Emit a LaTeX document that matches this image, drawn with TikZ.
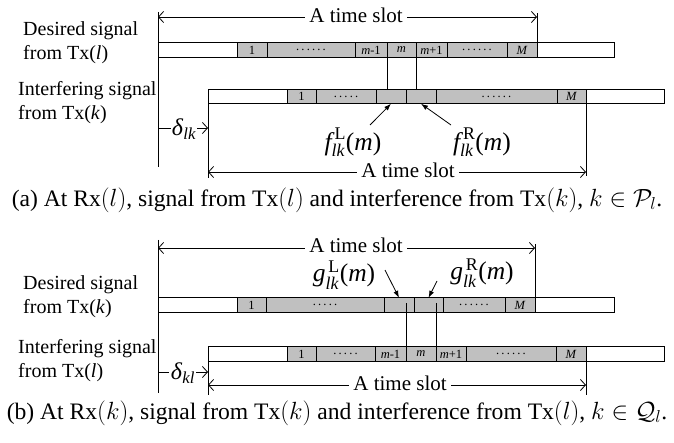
\documentclass[tikz,border=0pt]{standalone}
\usepackage{amsmath}
\usepackage{fontspec}
\setmainfont{Liberation Serif}
\usetikzlibrary{arrows.meta}
\definecolor{slotgray}{RGB}{192,192,192}
\tikzset{
  x=1pt, y=-1pt,
  cellbox/.style={draw, line width=1pt, inner sep=0pt, outer sep=0pt,
    minimum height=14.5pt, font=\fontsize{12.5}{12.5}\selectfont},
  gcell/.style={cellbox, fill=slotgray},
  wcell/.style={cellbox, fill=white},
  guide/.style={line width=0.8pt},
  span/.style={line width=0.8pt,
    {Straight Barb[length=5pt,width=11pt]}-{Straight Barb[length=5pt,width=11pt]}},
  halfspan/.style={line width=0.8pt, -{Straight Barb[length=5pt,width=11pt]}},
  ptr/.style={line width=0.8pt, -{Latex[length=7pt,width=5pt]}},
  lbl/.style={font=\fontsize{24}{24}\selectfont, inner sep=0pt},
  overlap/.style={font=\fontsize{25.5}{25.5}\selectfont, inner sep=0pt},
  side/.style={font=\fontsize{20}{24}\selectfont, align=left, anchor=west, inner sep=0pt},
  slotlbl/.style={font=\fontsize{21}{21}\selectfont, fill=white, inner xsep=4pt, inner ysep=0pt},
  caption/.style={font=\fontsize{23.6}{23.6}\selectfont, inner sep=0pt},
}
% \mkcell{name}{left x}{right x}{centre y}{style}{text}
\newcommand\mkcell[6]{\node[#5, minimum width={(#3-#2)*1pt}] (#1) at ({(#2+#3)/2},#4) {#6};}
\newcommand\dotsix{.\kern2.2pt.\kern2.2pt.\kern2.2pt.\kern2.2pt.\kern2.2pt.}
\newcommand\dotfive{.\kern2.2pt.\kern2.2pt.\kern2.2pt.\kern2.2pt.}

\begin{document}
\begin{tikzpicture}
\useasboundingbox (0,0) rectangle (674,443);

% ---------------- (a) ----------------
\node[side] (adesc) at (23,43) {Desired signal\\from Tx(\textit{l})};
\node[side] (aidesc) at (18,103) {Interfering signal\\from Tx(\textit{k})};

% desired slot from Tx(l)
\mkcell{ad0}{158}{237}{50}{wcell}{}
\mkcell{ad1}{237}{267}{50}{gcell}{1}
\mkcell{ad2}{267}{355}{50}{gcell}{\dotsix}
\mkcell{ad3}{355}{387}{50}{gcell}{\textit{m}-1}
\mkcell{ad4}{387}{416}{50}{gcell}{\textit{m}}
\mkcell{ad5}{416}{447}{50}{gcell}{\textit{m}+1}
\mkcell{ad6}{447}{507}{50}{gcell}{\dotsix}
\mkcell{ad7}{507}{537}{50}{gcell}{\textit{M}}
\mkcell{ad8}{537}{614}{50}{wcell}{}

% interfering slot from Tx(k)
\mkcell{ai0}{208}{287}{96.5}{wcell}{}
\mkcell{ai1}{287}{316}{96.5}{gcell}{1}
\mkcell{ai2}{316}{376}{96.5}{gcell}{\dotfive}
\mkcell{ai3}{376}{406}{96.5}{gcell}{}
\mkcell{ai4}{406}{436}{96.5}{gcell}{}
\mkcell{ai5}{436}{557}{96.5}{gcell}{\dotsix}
\mkcell{ai6}{557}{586}{96.5}{gcell}{\textit{M}}
\mkcell{ai7}{586}{664}{96.5}{wcell}{}

% boundaries of sub-slot m projected down
\draw[guide] (ad4.south west) -- (ad4.south west |- ai3.north);
\draw[guide] (ad4.south east) -- (ad4.south east |- ai4.north);

% reference lines
\coordinate (aLtop) at (158,12);
\coordinate (aLbot) at (158,167);
\draw[guide] (aLtop) -- (aLbot);
\coordinate (aspanL) at (158,17);
\coordinate (aspanR) at (537,17);
\draw[guide] (ad7.north east) -- (537,13);
\draw[span] (aspanL) -- (aspanR);
\node[slotlbl] (aslot) at (356,15) {A time slot};

\coordinate (abspanL) at (208,172);
\coordinate (abspanR) at (586,172);
\draw[guide] (ai0.south west) -- (208,178);
\draw[guide] (ai6.south east) -- (586,176);
\draw[span] (abspanL) -- (abspanR);
\node[slotlbl] (abslot) at (408,170) {A time slot};

% offset delta_lk
\node[lbl] (adel) at (184,129) {\textit{δ}$_{\textit{lk}}$};
\draw[guide] (158,128) -- (171,128);
\draw[halfspan] (197,128) -- (ai0.south west |- 0,128);

% partial overlaps
\node[overlap] (afL) at (353,142) {$\textit{f}^{\,\textrm{L}}_{\textit{lk}}\textrm{(}\textit{m}\textrm{)}$};
\node[overlap] (afR) at (482,142) {$\textit{f}^{\,\textrm{R}}_{\textit{lk}}\textrm{(}\textit{m}\textrm{)}$};
\coordinate (afLtail) at (370,125);
\coordinate (afRtail) at (451,125);
\draw[ptr] (afLtail) -- (ai3.south);
\draw[ptr] (afRtail) -- (ai4.south);

\node[caption] (capa) at (337,200) {(a) At $\mathrm{Rx}(l)$, signal from $\mathrm{Tx}(l)$ and interference from $\mathrm{Tx}(k)$, $k\in\mathcal{P}_l$.};

% ---------------- (b) ----------------
\node[side] (bdesc) at (23,297) {Desired signal\\from Tx(\textit{k})};
\node[side] (bidesc) at (18,361) {Interfering signal\\from Tx(\textit{l})};

% desired slot from Tx(k)
\mkcell{bd0}{158}{237}{305}{wcell}{}
\mkcell{bd1}{237}{266}{305}{gcell}{1}
\mkcell{bd2}{266}{384}{305}{gcell}{\dotfive}
\mkcell{bd3}{384}{414}{305}{gcell}{}
\mkcell{bd4}{414}{443}{305}{gcell}{}
\mkcell{bd5}{443}{505}{305}{gcell}{\dotsix}
\mkcell{bd6}{505}{535}{305}{gcell}{\textit{M}}
\mkcell{bd7}{535}{614}{305}{wcell}{}

% interfering slot from Tx(l)
\mkcell{bi0}{208}{287}{354}{wcell}{}
\mkcell{bi1}{287}{316}{354}{gcell}{1}
\mkcell{bi2}{316}{375}{354}{gcell}{\dotfive}
\mkcell{bi3}{375}{406}{354}{gcell}{\textit{m}-1}
\mkcell{bi4}{406}{436}{354}{gcell}{\textit{m}}
\mkcell{bi5}{436}{466}{354}{gcell}{\textit{m}+1}
\mkcell{bi6}{466}{556}{354}{gcell}{\dotsix}
\mkcell{bi7}{556}{586}{354}{gcell}{\textit{M}}
\mkcell{bi8}{586}{664}{354}{wcell}{}

% boundaries of sub-slot m projected up
\draw[guide] (bi4.north west) -- (406,303);
\draw[guide] (bi4.north east) -- (436,303);

% reference lines
\coordinate (bLtop) at (158,240);
\coordinate (bLbot) at (158,393);
\draw[guide] (bLtop) -- (bLbot);
\coordinate (bspanL) at (158,248);
\coordinate (bspanR) at (535,248);
\draw[guide] (bd6.north east) -- (535,244);
\draw[span] (bspanL) -- (bspanR);
\node[slotlbl] (bslot) at (356,245) {A time slot};

\coordinate (bbspanL) at (208,385);
\coordinate (bbspanR) at (586,385);
\draw[guide] (bi0.south west) -- (208,395);
\draw[guide] (bi7.south east) -- (586,395);
\draw[span] (bbspanL) -- (bbspanR);
\node[slotlbl] (bbslot) at (400,383) {A time slot};

% offset delta_kl
\node[lbl] (bdel) at (183,373) {\textit{δ}$_{\textit{kl}}$};
\draw[guide] (158,372) -- (169,372);
\draw[halfspan] (196,372) -- (bi0.south west |- 0,372);

% partial overlaps
\node[overlap] (bgL) at (344,275) {$\textit{g}^{\,\textrm{L}}_{\textit{lk}}\textrm{(}\textit{m}\textrm{)}$};
\node[overlap] (bgR) at (482,273) {$\textit{g}^{\,\textrm{R}}_{\textit{lk}}\textrm{(}\textit{m}\textrm{)}$};
\coordinate (bgLtail) at (385,270);
\coordinate (bgRtail) at (437,281);
\draw[ptr] (bgLtail) -- (bd3.north);
\draw[ptr] (bgRtail) -- (bd4.north);

\node[caption] (capb) at (337,413) {(b) At $\mathrm{Rx}(k)$, signal from $\mathrm{Tx}(k)$ and interference from $\mathrm{Tx}(l)$, $k\in\mathcal{Q}_l$.};
\end{tikzpicture}
\end{document}
